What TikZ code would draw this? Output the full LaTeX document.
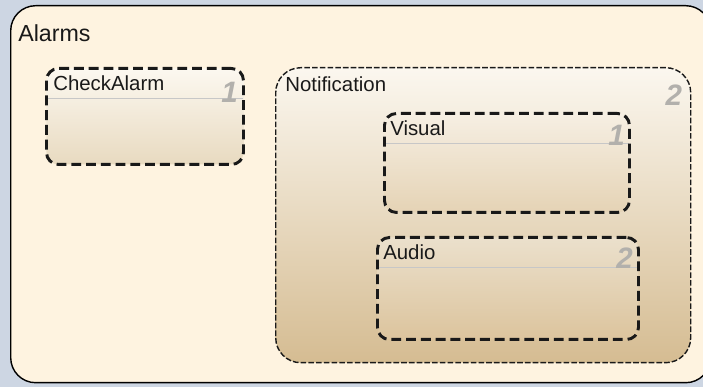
\documentclass[tikz,border=0pt]{standalone}
\usepackage{fontspec}
\setmainfont{Liberation Sans}
\usepackage{tikz}
\usetikzlibrary{positioning}
\newlength\px
\setlength\px{0.025cm}
\definecolor{bgblue}{HTML}{CDD6E3}
\definecolor{cream}{HTML}{FEF3E0}
\definecolor{numgray}{HTML}{B2B0AC}
\tikzstyle{chart} = [rectangle, draw=black, line width=1pt, fill=cream,
    rounded corners=25\px, anchor=north west, inner sep=0pt]
\tikzstyle{parstate} = [rectangle, draw=black!90, line width=1pt,
    dash pattern=on 4pt off 1.5pt, rounded corners=25\px,
    top color={rgb,255:red,251;green,247;blue,239}, bottom color={rgb,255:red,213;green,188;blue,146},
    anchor=north west, inner sep=0pt]
\tikzstyle{state} = [rectangle, draw=black!90, line width=2.1pt,
    dash pattern=on 7pt off 3.5pt, rounded corners=12\px, anchor=north west, inner sep=0pt,
    path picture={\draw[solid, black!22, line width=0.6pt]
        ([yshift=-30\px]path picture bounding box.north west) --
        ([yshift=-30\px]path picture bounding box.north east);}]
\tikzstyle{statename} = [anchor=north west, inner sep=0pt, text=black!90,
    font=\fontsize{14.5}{16}\selectfont]
\tikzstyle{orderno} = [anchor=north east, inner sep=0pt, text=numgray,
    font=\fontsize{21}{23}\selectfont\bfseries\itshape]

\begin{document}
\begin{tikzpicture}[x=0.025cm, y=0.025cm]
    \useasboundingbox (0,0) rectangle (703,387);
    \fill[bgblue] (0,0) rectangle (703,387);
    \clip (0,0) rectangle (703,387);
    % Place nodes
    \node [chart, minimum width=700\px, minimum height=377\px] (alarms) at (10,382) {};
    \node [statename, font=\fontsize{16.5}{18}\selectfont] (alarmsname) at (18,363) {Alarms};
    \node [state, top color={rgb,255:red,252;green,248;blue,240}, bottom color={rgb,255:red,232;green,218;blue,192},
        minimum width=197\px, minimum height=96\px] (chk) at (45,320) {};
    \node [statename] (chkname) at ([xshift=8\px, yshift=-8\px]chk.north west) {CheckAlarm};
    \node [orderno] (chkorder) at ([xshift=-7\px, yshift=-15\px]chk.north east) {1};
    \node [parstate, minimum width=415\px, minimum height=295\px] (notif) at (275,320) {};
    \node [statename] (notifname) at ([xshift=10\px, yshift=-9\px]notif.north west) {Notification};
    \node [orderno] (notiforder) at ([xshift=-9\px, yshift=-18\px]notif.north east) {2};
    \node [state, top color={rgb,255:red,246;green,239;blue,227}, bottom color={rgb,255:red,229;green,211;blue,181},
        minimum width=245\px, minimum height=99\px] (vis) at (383,275) {};
    \node [statename] (visname) at ([xshift=7\px, yshift=-8\px]vis.north west) {Visual};
    \node [orderno] (visorder) at ([xshift=-6\px, yshift=-13\px]vis.north east) {1};
    \node [state, top color={rgb,255:red,235;green,224;blue,204}, bottom color={rgb,255:red,220;green,196;blue,157},
        minimum width=261\px, minimum height=102\px] (aud) at (376,151) {};
    \node [statename] (audname) at ([xshift=7\px, yshift=-8\px]aud.north west) {Audio};
    \node [orderno] (audorder) at ([xshift=-7\px, yshift=-12\px]aud.north east) {2};
\end{tikzpicture}
\end{document}
